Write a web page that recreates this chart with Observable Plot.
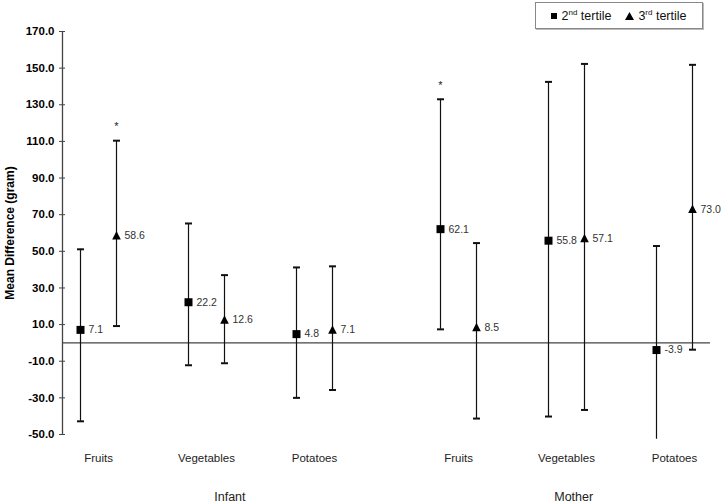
<!DOCTYPE html>
<html>
<head>
<meta charset="utf-8">
<script src="https://cdn.jsdelivr.net/npm/d3@7"></script>
<script src="https://cdn.jsdelivr.net/npm/@observablehq/plot@0.6"></script>
<style>
  html, body { margin: 0; padding: 0; background: #fff; }
  #wrap { position: relative; width: 721px; height: 503px; font-family: "Liberation Sans", Arial, sans-serif; }
  #legend { position: absolute; left: 535px; top: 2px; width: 168px; height: 27px; border: 1px solid #888;
            box-shadow: 1px 1px 0 #bbb; background: #fff; font-size: 12.5px; color: #111;
            display: flex; align-items: center; justify-content: center; gap: 14px; box-sizing: border-box; }
  #legend sup { font-size: 8px; vertical-align: 5px; }
  .item { display: flex; align-items: center; gap: 4px; }
</style>
</head>
<body>
<div id="wrap">
  <div id="chart"></div>
  <div id="legend">
    <span class="item"><svg width="6" height="6"><rect x="0" y="0" width="6" height="6" fill="#000"/></svg><span>2<sup>nd</sup> tertile</span></span>
    <span class="item"><svg width="9" height="8"><path d="M4.5,0L9,8L0,8Z" fill="#000"/></svg><span>3<sup>rd</sup> tertile</span></span>
  </div>
</div>
<script>
// ---- data ----
const categories = ["Fruits", "Vegetables", "Potatoes", "Fruits", "Vegetables", "Potatoes"];
const groups = ["Infant", "Infant", "Infant", "Mother", "Mother", "Mother"];
const groupNames = ["Infant", "Mother"];
const tertile2 = [7.1, 22.2, 4.8, 62.1, 55.8, -3.9];
const lower2 = [-42.8, -12.2, -30.0, 7.4, -40.2, -52.6];
const upper2 = [51.1, 65.2, 41.2, 133.0, 142.5, 52.9];
const tertile3 = [58.6, 12.6, 7.1, 8.5, 57.1, 73.0];
const lower3 = [9.2, -11.1, -25.7, -41.3, -36.6, -3.7];
const upper3 = [110.4, 37.0, 41.8, 54.5, 152.3, 151.8];
const significant2 = [false, false, false, true, false, false];
const significant3 = [true, false, false, false, false, false];
const yTicks = [-50, -30, -10, 10, 30, 50, 70, 90, 110, 130, 150, 170];

// ---- build table ----
const slot = (i) => i * 3 + (i >= 3 ? 1 : 0);
const rows = [];
categories.forEach((c, i) => {
  rows.push({cat: c, group: groups[i], tertile: 2, x: slot(i), v: tertile2[i], lo: lower2[i], hi: upper2[i], sig: significant2[i]});
  rows.push({cat: c, group: groups[i], tertile: 3, x: slot(i) + 1, v: tertile3[i], lo: lower3[i], hi: upper3[i], sig: significant3[i]});
});
const catLabels = categories.map((c, i) => ({cat: c, x: slot(i) + 0.5}));
const groupLabels = groupNames.map((g, k) => ({g, x: k === 0 ? 4.15 : 13.7}));

const squareSym = {draw(ctx) { const s = 4; ctx.moveTo(-s, -s); ctx.lineTo(s, -s); ctx.lineTo(s, s); ctx.lineTo(-s, s); ctx.closePath(); }};
const triSym = {draw(ctx) { ctx.moveTo(0, -4.6); ctx.lineTo(4.3, 3.9); ctx.lineTo(-4.3, 3.9); ctx.closePath(); }};
const capSym = {draw(ctx) { ctx.moveTo(-3.5, 0); ctx.lineTo(3.5, 0); }};

const yMin = -50;
const caps = rows.flatMap(d => [d.hi, d.lo].filter(v => v >= yMin).map(v => ({x: d.x, y: v})));

const plot = Plot.plot({
  width: 721,
  height: 503,
  marginLeft: 62,
  marginRight: 11,
  marginTop: 31,
  marginBottom: 69,
  style: {fontFamily: "'Liberation Sans', Arial, sans-serif", background: "#fff"},
  x: {domain: [-0.5, 17.5], axis: null},
  y: {domain: [-50, 170], axis: null},
  marks: [
    Plot.ruleX([-0.5], {stroke: "#444", strokeWidth: 1.3}),
    Plot.ruleY([0], {stroke: "#444", strokeWidth: 1.3}),
    Plot.axisY(yTicks, {tickSize: 6, dx: 3, text: null, stroke: "#444"}),
    Plot.axisY(yTicks, {tickSize: 0, tickPadding: 8, tickFormat: d => d.toFixed(1), fontWeight: "bold", fontSize: 11.5, fill: "#000", label: null}),
    Plot.text(["Mean Difference (gram)"], {frameAnchor: "left", dx: -52, rotate: -90, textAnchor: "middle", lineAnchor: "middle", fontWeight: "bold", fontSize: 12, fill: "#000"}),
    Plot.ruleX(rows, {x: "x", y1: "lo", y2: "hi", stroke: "#111", strokeWidth: 1.2}),
    Plot.dot(caps, {x: "x", y: "y", symbol: capSym, r: 4, stroke: "#111", strokeWidth: 2, fill: "none"}),
    Plot.dot(rows.filter(d => d.tertile === 2), {x: "x", y: "v", symbol: squareSym, r: 4, fill: "#000", stroke: "none"}),
    Plot.dot(rows.filter(d => d.tertile === 3), {x: "x", y: "v", symbol: triSym, r: 4, fill: "#000", stroke: "none"}),
    Plot.text(rows, {x: "x", y: "v", text: d => d.v.toFixed(1), dx: 8, textAnchor: "start", fontSize: 10.5, fill: "#333"}),
    Plot.text(rows.filter(d => d.sig), {x: "x", y: "hi", text: () => "*", dy: -14, fontSize: 11, fill: "#222"}),
    Plot.text(catLabels, {x: "x", text: "cat", frameAnchor: "bottom", lineAnchor: "middle", dy: 24, fontSize: 11.5, fill: "#222"}),
    Plot.text(groupLabels, {x: "x", text: "g", frameAnchor: "bottom", lineAnchor: "middle", dy: 62, fontSize: 12.5, fill: "#222"})
  ]
});
document.getElementById("chart").appendChild(plot);
</script>
</body>
</html>
